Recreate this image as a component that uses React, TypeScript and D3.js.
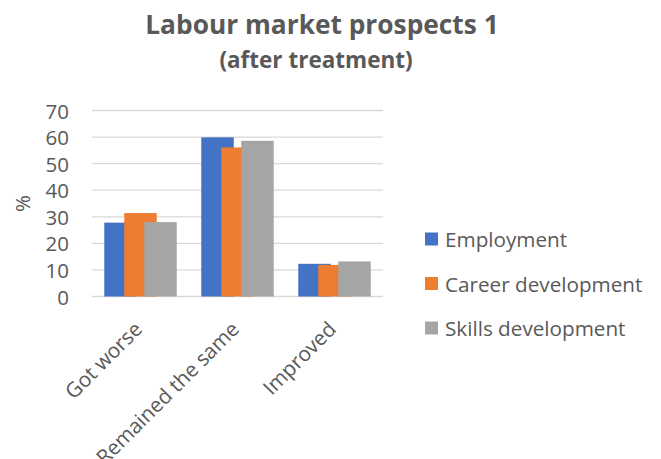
import React from "react";
import * as d3 from "d3";

const categories = ["Got worse", "Remained the same", "Improved"];
const seriesNames = ["Employment", "Career development", "Skills development"];
const employment = [27.8, 59.9, 12.3];
const careerDevelopment = [31.4, 56.1, 11.9];
const skillsDevelopment = [28.0, 58.6, 13.2];
const yTicks = [0, 10, 20, 30, 40, 50, 60, 70];
const colors = ["#4472C4", "#ED7D31", "#A5A5A5"];

const W = 661;
const H = 459;
const plot = { left: 92, right: 383, top: 110.5, bottom: 296.5 };
const FONT = "'Open Sans', Lato, sans-serif";
const TEXT = "#595959";

export default function App() {
  const series = [employment, careerDevelopment, skillsDevelopment];
  const x = d3.scaleBand<string>().domain(categories).range([plot.left, plot.right]).padding(0);
  const y = d3.scaleLinear().domain([0, 70]).range([plot.bottom, plot.top]);
  const barW = x.bandwidth() * 0.335;
  const step = x.bandwidth() * 0.206;
  const groupW = barW + step * (series.length - 1);

  return (
    <svg width={W} height={H} style={{ position: "absolute", left: 0, top: 0, background: "#fff" }} fontFamily={FONT}>
      <rect x={0} y={0} width={W} height={H} fill="#fff" />
      <text x={322} y={34} textAnchor="middle" fontSize={26.3} fontWeight="bold" fill={TEXT}>
        Labour market prospects 1
      </text>
      <text x={316} y={68} textAnchor="middle" fontSize={22.5} fontWeight="bold" fill={TEXT}>
        (after treatment)
      </text>
      {yTicks.map((t) => (
        <g key={t}>
          <line x1={plot.left} x2={plot.right} y1={y(t)} y2={y(t)} stroke="#D9D9D9" strokeWidth={1.3} />
          <text x={69} y={y(t)} textAnchor="end" dominantBaseline="central" fontSize={20.5} fill={TEXT}>
            {t}
          </text>
        </g>
      ))}
      <text
        transform={`translate(22,${(plot.top + plot.bottom) / 2}) rotate(-90)`}
        textAnchor="middle"
        dominantBaseline="central"
        fontSize={20.5}
        fill={TEXT}
      >
        %
      </text>
      {series.map((vals, si) =>
        categories.map((c, ci) => {
          const cx = (x(c) as number) + x.bandwidth() / 2;
          const bx = cx - groupW / 2 + si * step;
          return (
            <rect
              key={`${si}-${ci}`}
              x={bx}
              y={y(vals[ci])}
              width={barW}
              height={y(0) - y(vals[ci])}
              fill={colors[si]}
            />
          );
        })
      )}
      {categories.map((c) => {
        const cx = (x(c) as number) + x.bandwidth() / 2;
        return (
          <text
            key={c}
            transform={`translate(${cx + 3},${plot.bottom + 34}) rotate(-45)`}
            textAnchor="end"
            fontSize={20.7}
            fill={TEXT}
          >
            {c}
          </text>
        );
      })}
      {seriesNames.map((n, i) => {
        const cy = 239 + i * 44.5;
        return (
          <g key={n}>
            <rect x={425} y={cy - 6.5} width={13} height={13} fill={colors[i]} />
            <text x={445} y={cy} dominantBaseline="central" fontSize={20.7} fill={TEXT}>
              {n}
            </text>
          </g>
        );
      })}
    </svg>
  );
}
